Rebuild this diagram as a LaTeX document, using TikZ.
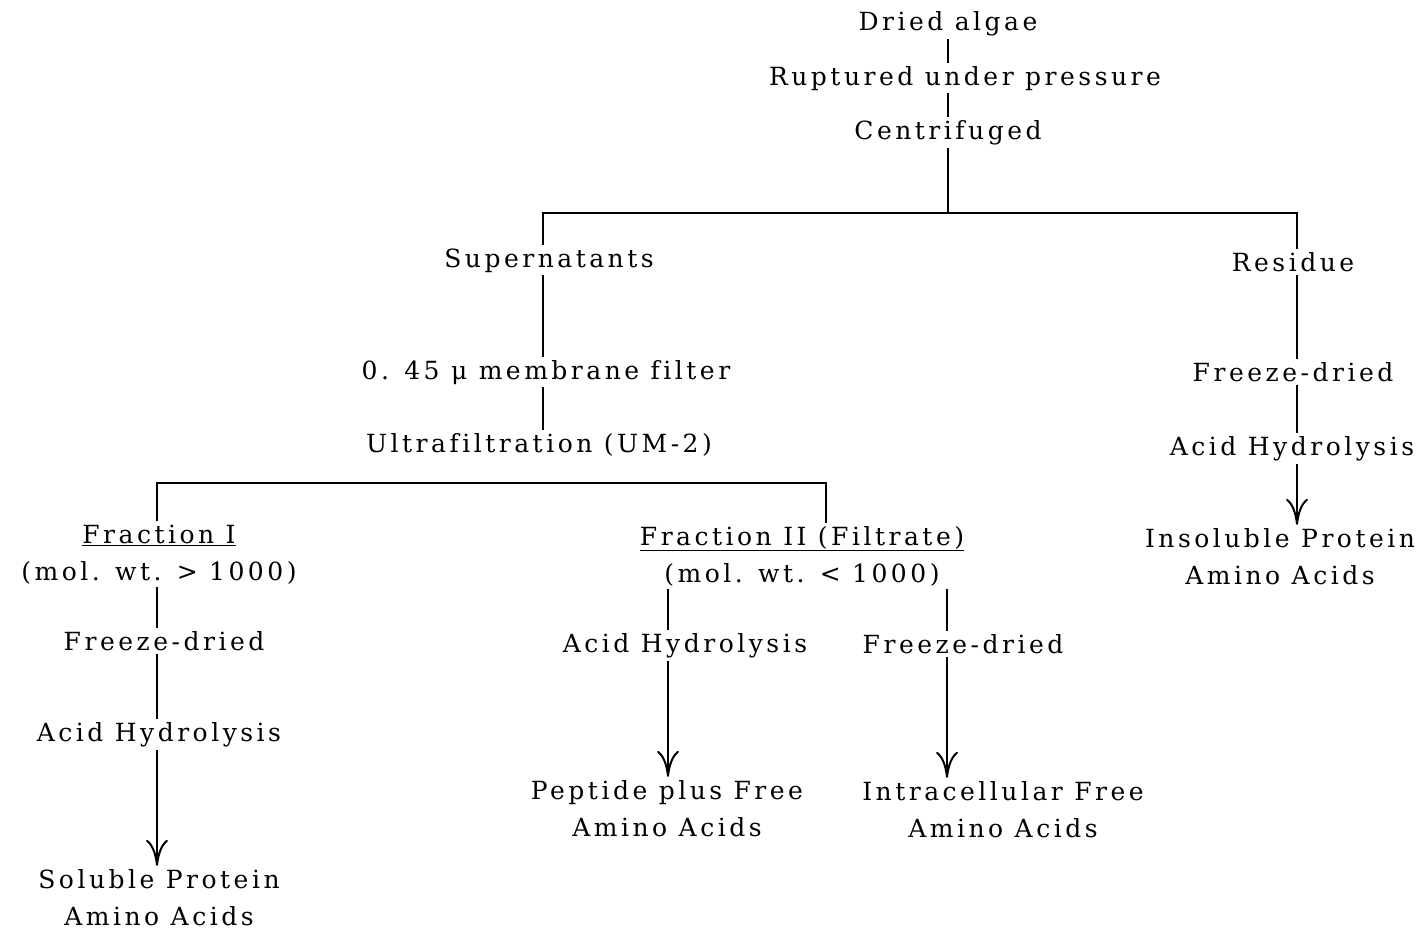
\documentclass[tikz,border=0pt]{standalone}
\usepackage{fontspec}
\setmainfont{DejaVu Serif}[LetterSpace=14, Ligatures=NoCommon]
\usepackage{tikz}
\usetikzlibrary{arrows.meta}

\begin{document}
\begin{tikzpicture}[
  x=1pt, y=-1pt,
  every node/.style={inner sep=3pt, align=center,
    font=\fontsize{25}{37}\selectfont},
  stage/.style={anchor=base},
  link/.style={line width=2pt},
  bar/.style={line width=2.8pt, line join=miter},
  result/.style={link, -{Computer Modern Rightarrow[length=26pt,width=22pt]}}
]
  \useasboundingbox (0,0) rectangle (1427,930);

  % main stem
  \node[stage] (dried) at (948,30)  {Dried algae};
  \node[stage] (rupt)  at (965,85)  {Ruptured under pressure};
  \node[stage] (cent)  at (948,139) {Centrifuged};
  \coordinate (topL) at (543,213);
  \coordinate (topR) at (1297,213);

  % supernatant side
  \node[stage] (sup)   at (549,267) {Supernatants};
  \node[stage] (memb)  at (546,379) {0. 45 μ membrane filter};
  \node[stage] (ultra) at (539,452) {Ultrafiltration (UM-2)};
  \coordinate (midL) at (157,483);
  \coordinate (midR) at (826,483);

  % fraction I
  \node[stage] (fracA)   at (159,580) {\underline{Fraction I}\\(mol. wt. > 1000)};
  \node[stage] (freezeA) at (164,650) {Freeze-dried};
  \node[stage] (hydA)    at (159,741) {Acid Hydrolysis};
  \node[stage] (solA)    at (159,925) {Soluble Protein\\Amino Acids};

  % fraction II
  \node[stage] (fracB)   at (802,582) {\underline{Fraction II (Filtrate)}\\(mol. wt. < 1000)};
  \coordinate (brL) at (668,592);
  \coordinate (brR) at (947,592);
  \node[stage] (hydB)    at (685,652) {Acid Hydrolysis};
  \node[stage] (freezeB) at (963,653) {Freeze-dried};
  \node[stage] (pep)     at (667,836) {Peptide plus Free\\Amino Acids};
  \node[stage] (intra)   at (1003,837) {Intracellular Free\\Amino Acids};

  % residue side
  \node[stage] (res)     at (1293,271) {Residue};
  \node[stage] (freezeC) at (1293,381) {Freeze-dried};
  \node[stage] (hydC)    at (1292,455) {Acid Hydrolysis};
  \node[stage] (insol)   at (1280,584) {Insoluble Protein\\Amino Acids};

  % connectors
  \draw[link] (dried.south) -- (dried.south |- rupt.north);
  \draw[link] (rupt.south -| dried) -- (cent.north);
  \draw[link] (cent.south) -- (cent.south |- topL);
  \draw[bar] (sup.north -| topL) -- (topL) -- (topR) -- (res.north -| topR);

  \draw[link] (sup.south -| topL) -- (memb.north -| topL);
  \draw[link] (memb.south -| topL) -- (ultra.north -| topL);
  \draw[bar] (fracA.north -| midL) -- (midL) -- (midR) -- (fracB.north -| midR);

  \draw[link] (fracA.south -| midL) -- (freezeA.north -| midL);
  \draw[link] (freezeA.south -| midL) -- (hydA.north -| midL);
  \draw[result] (hydA.south -| midL) -- (solA.north -| midL);

  \draw[link] (fracB.south -| brL) -- (hydB.north -| brL);
  \draw[link] (fracB.south -| brR) -- (freezeB.north -| brR);
  \draw[result] (hydB.south -| brL) -- (pep.north -| brL);
  \draw[result] (freezeB.south -| brR) -- (intra.north -| brR);

  \draw[link] (res.south -| topR) -- (freezeC.north -| topR);
  \draw[link] (freezeC.south -| topR) -- (hydC.north -| topR);
  \draw[result] (hydC.south -| topR) -- (insol.north -| topR);
\end{tikzpicture}
\end{document}
